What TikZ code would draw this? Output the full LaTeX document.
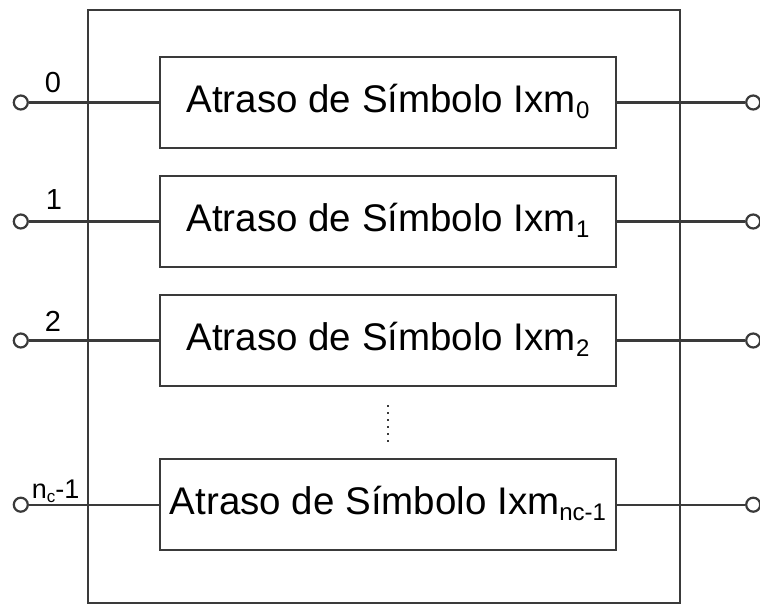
\documentclass[tikz,border=0pt]{standalone}
\usepackage{fontspec}
\setmainfont{Liberation Sans}
\usepackage{xcolor}
\usetikzlibrary{positioning,calc}

\definecolor{wire}{HTML}{3A3A3A}
% lowered index as set in the block titles
\newcommand{\lowidx}[1]{\raisebox{-6pt}{\fontsize{24}{24}\selectfont #1}}

\begin{document}
\begin{tikzpicture}[
  x=1pt,y=-1pt,
  line width=2.2pt,
  delaybox/.style={draw=wire,minimum width=456pt,minimum height=91pt,inner sep=0pt,
    text height=27pt,text depth=7pt,font=\fontsize{38.5}{44}\selectfont},
  port/.style={circle,draw=wire,fill=white,inner sep=0pt,minimum size=14pt},
  idx/.style={anchor=base west,inner sep=0pt,font=\fontsize{29}{32}\selectfont},
]
\useasboundingbox (0,0) rectangle (760,605);

% outer frame
\node[draw=wire,minimum width=592pt,minimum height=593pt,inner sep=0pt] (frame) at (384,306.5) {};

% delay blocks
\node[delaybox] (b0) at (388,102.5) {Atraso de Símbolo Ixm\lowidx{0}};
\node[delaybox,below=25.8pt of b0] (b1) {Atraso de Símbolo Ixm\lowidx{1}};
\node[delaybox,below=25.8pt of b1] (b2) {Atraso de Símbolo Ixm\lowidx{2}};
\node[delaybox,below=71pt of b2] (b3) {Atraso de Símbolo Ixm\lowidx{nc-1}};

% input and output terminals
\node[port,left=130pt of b0] (in0) {};
\node[port,left=130pt of b1] (in1) {};
\node[port,left=130pt of b2] (in2) {};
\node[port,left=130pt of b3] (in3) {};
\node[port,right=128pt of b0] (out0) {};
\node[port,right=128pt of b1] (out1) {};
\node[port,right=128pt of b2] (out2) {};
\node[port,right=128pt of b3] (out3) {};

\draw[wire] (in0) -- (b0) -- (out0);
\draw[wire] (in1) -- (b1) -- (out1);
\draw[wire] (in2) -- (b2) -- (out2);
\draw[wire] (in3) -- (b3) -- (out3);

% channel numbers
\node[idx] (n0) at ($(in0)+(23,-10)$) {0};
\node[idx] (n1) at ($(in1)+(24,-12)$) {1};
\node[idx] (n2) at ($(in2)+(23,-9)$) {2};
\node[idx,font=\fontsize{27}{29}\selectfont] (n3) at ($(in3)+(10,-6)$)
  {n\raisebox{-4pt}{\fontsize{17}{17}\selectfont c}-1};

% more blocks follow
\coordinate (gapA) at ($(b2.south)+(0,18)$);
\coordinate (gapB) at ($(b3.north)+(0,-14)$);
\draw[wire,line width=2pt,dash pattern=on 2pt off 5pt] (gapA) -- (gapB);
\end{tikzpicture}
\end{document}
